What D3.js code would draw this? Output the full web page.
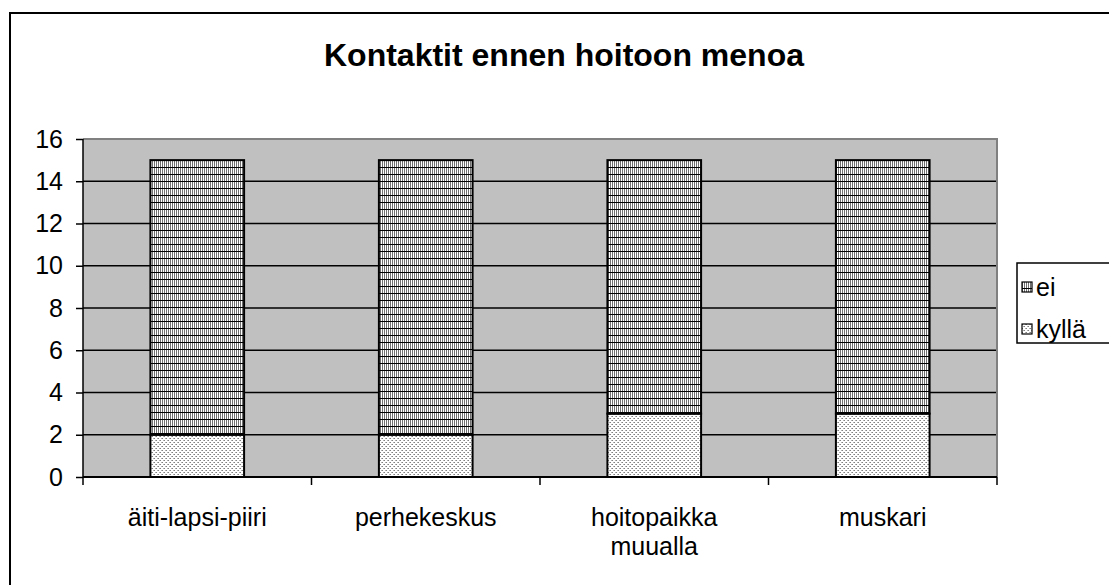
<!DOCTYPE html>
<html>
<head>
<meta charset="utf-8">
<script src="https://cdn.jsdelivr.net/npm/d3@7"></script>
<style>
  body { margin: 0; background: #fff; }
  svg { display: block; font-family: Arial, "Liberation Sans", sans-serif; }
</style>
</head>
<body>
<svg id="chart" width="1109" height="585"></svg>
<script>
const categories = ['äiti-lapsi-piiri', 'perhekeskus', 'hoitopaikka muualla', 'muskari'];
const kylla = [2, 2, 3, 3];
const ei = [13, 13, 12, 12];
const yTicks = [0, 2, 4, 6, 8, 10, 12, 14, 16];
const seriesNames = ['kyllä', 'ei'];

const svg = d3.select('#chart');
const plot = { left: 83, top: 139, right: 997, bottom: 477 };

// patterns
const defs = svg.append('defs');
const pEi = defs.append('pattern')
  .attr('id', 'pat-ei').attr('patternUnits', 'userSpaceOnUse')
  .attr('width', 2).attr('height', 7);
pEi.append('rect').attr('width', 2).attr('height', 7).attr('fill', '#fff');
pEi.append('rect').attr('width', 1).attr('height', 7).attr('fill', '#707070');
pEi.append('rect').attr('y', 6).attr('width', 2).attr('height', 1).attr('fill', '#000');

const pKy = defs.append('pattern')
  .attr('id', 'pat-kylla').attr('patternUnits', 'userSpaceOnUse')
  .attr('width', 4).attr('height', 4);
pKy.append('rect').attr('width', 4).attr('height', 4).attr('fill', '#fff');
[[0, 0], [2, 2], [3, 0], [1, 2]].forEach(([px, py], i) => {
  pKy.append('rect').attr('x', px).attr('y', py).attr('width', 1).attr('height', 1)
    .attr('fill', i < 2 ? '#808080' : '#b0b0b0');
});

// outer border
svg.append('rect')
  .attr('x', 10).attr('y', 13).attr('width', 1120).attr('height', 600)
  .attr('fill', '#fff').attr('stroke', '#000').attr('stroke-width', 2);

svg.append('text')
  .attr('x', 564).attr('y', 66)
  .attr('text-anchor', 'middle')
  .style('font-size', '32px').style('font-weight', 'bold')
  .text('Kontaktit ennen hoitoon menoa');

const x = d3.scaleBand().domain(categories).range([plot.left, plot.right]).paddingInner(0.59).paddingOuter(0.295);
const band = d3.scaleBand().domain(categories).range([plot.left, plot.right]);
const y = d3.scaleLinear().domain([0, 16]).range([plot.bottom, plot.top]);

// plot background
svg.append('rect')
  .attr('x', plot.left).attr('y', plot.top)
  .attr('width', plot.right - plot.left).attr('height', plot.bottom - plot.top)
  .attr('fill', '#c0c0c0');

// gridlines
svg.append('g')
  .selectAll('line')
  .data(yTicks.filter(d => d > 0 && d < 16))
  .join('line')
  .attr('x1', plot.left).attr('x2', plot.right)
  .attr('y1', d => y(d)).attr('y2', d => y(d))
  .attr('stroke', '#000').attr('stroke-width', 1.5);

// plot border (top/right gray)
svg.append('path')
  .attr('d', `M${plot.left},${plot.top}H${plot.right}V${plot.bottom}`)
  .attr('fill', 'none').attr('stroke', '#808080').attr('stroke-width', 2);

// stacked bars
const rows = categories.map((c, i) => ({ cat: c, 'kyllä': kylla[i], ei: ei[i] }));
const stack = d3.stack().keys(seriesNames)(rows);
const fills = { 'kyllä': 'url(#pat-kylla)', ei: 'url(#pat-ei)' };

svg.append('g')
  .selectAll('g')
  .data(stack)
  .join('g')
  .attr('fill', d => fills[d.key])
  .selectAll('rect')
  .data(d => d)
  .join('rect')
  .attr('x', d => x(d.data.cat))
  .attr('width', x.bandwidth())
  .attr('y', d => y(d[1]))
  .attr('height', d => y(d[0]) - y(d[1]))
  .attr('stroke', '#000').attr('stroke-width', 2);

// y axis
const yAxis = svg.append('g')
  .attr('transform', `translate(${plot.left},0)`)
  .call(d3.axisLeft(y).tickValues(yTicks).tickSize(7).tickPadding(13));
yAxis.selectAll('line, path').attr('stroke', '#000').attr('stroke-width', 1.5);
yAxis.select('.domain').attr('d', `M0,${plot.top}V${plot.bottom}`);
yAxis.selectAll('text').style('font-size', '25px').attr('fill', '#000')
  .attr('font-family', null);

// x axis
const xAxis = svg.append('g')
  .attr('transform', `translate(0,${plot.bottom})`);
xAxis.append('line')
  .attr('x1', plot.left).attr('x2', plot.right)
  .attr('stroke', '#000').attr('stroke-width', 2);
xAxis.selectAll('line.tick')
  .data(categories.concat(['end']))
  .join('line')
  .attr('class', 'tick')
  .attr('x1', (d, i) => i < categories.length ? band(d) : plot.right)
  .attr('x2', (d, i) => i < categories.length ? band(d) : plot.right)
  .attr('y1', 0).attr('y2', 8)
  .attr('stroke', '#000').attr('stroke-width', 1.5);

xAxis.selectAll('text')
  .data(categories)
  .join('text')
  .attr('x', d => band(d) + band.bandwidth() / 2)
  .attr('y', 49)
  .attr('text-anchor', 'middle')
  .style('font-size', '25px')
  .each(function (d) {
    const words = d === 'hoitopaikka muualla' ? ['hoitopaikka', 'muualla'] : [d];
    d3.select(this).selectAll('tspan')
      .data(words)
      .join('tspan')
      .attr('x', band(d) + band.bandwidth() / 2)
      .attr('dy', (w, i) => i === 0 ? 0 : 29)
      .text(w => w);
  });

// legend
const legend = svg.append('g');
legend.append('rect')
  .attr('x', 1017).attr('y', 263).attr('width', 120).attr('height', 80)
  .attr('fill', '#fff').attr('stroke', '#000').attr('stroke-width', 1.5);
const legendItems = ['ei', 'kyllä'];
legend.selectAll('g.item')
  .data(legendItems)
  .join('g')
  .attr('class', 'item')
  .attr('transform', (d, i) => `translate(1022,${282 + i * 42})`)
  .each(function (d) {
    const g = d3.select(this);
    g.append('rect').attr('width', 10).attr('height', 10)
      .attr('fill', fills[d]).attr('stroke', '#000').attr('stroke-width', 1.2);
    g.append('text').attr('x', 14).attr('y', 14)
      .style('font-size', '25px').text(d);
  });
</script>
</body>
</html>
